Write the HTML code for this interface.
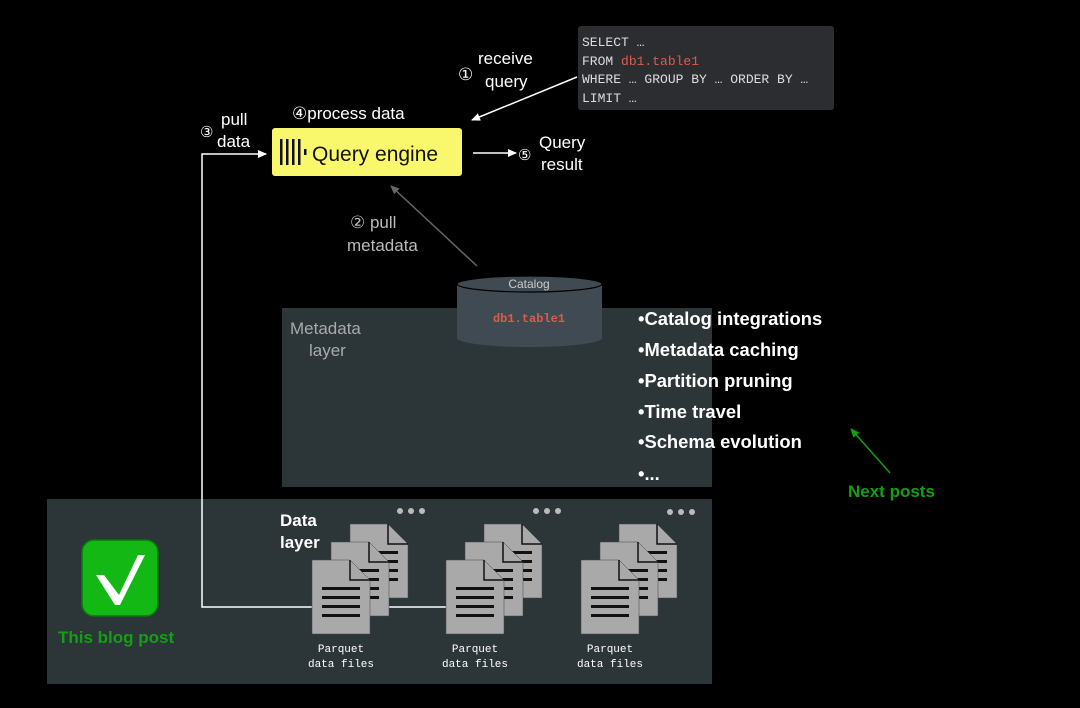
<!DOCTYPE html>
<html><head><meta charset="utf-8"><style>
html,body{margin:0;padding:0;background:#000;}
body{width:1080px;height:703px;overflow:hidden;}
svg text{font-family:"Liberation Sans",sans-serif;}
svg text.mono, svg .mono text{font-family:"Liberation Mono",monospace;}
</style></head><body>
<svg width="1080" height="703" viewBox="0 0 1080 703" xmlns="http://www.w3.org/2000/svg">
<defs>
<g id="doc">
<path d="M0 0 H38 L58 20 V74 H0 Z" fill="#a9a9a9" stroke="#444" stroke-width="0.5"/>
<path d="M38 0 V20 H58" fill="none" stroke="#111" stroke-width="1.5"/>
<rect x="10" y="27" width="38" height="3" fill="#111"/>
<rect x="10" y="36" width="38" height="3" fill="#111"/>
<rect x="10" y="45" width="38" height="3" fill="#111"/>
<rect x="10" y="54" width="38" height="3" fill="#111"/>
</g>
<g id="stack">
<use href="#doc" x="38" y="-36"/>
<use href="#doc" x="19" y="-18"/>
<use href="#doc" x="0" y="0"/>
</g>
<marker id="ah" markerWidth="10" markerHeight="10" refX="8" refY="5" orient="auto" markerUnits="userSpaceOnUse"><path d="M0 1 L9 5 L0 9 Z" fill="#fff"/></marker>
<marker id="ahg" markerWidth="10" markerHeight="10" refX="8" refY="5" orient="auto" markerUnits="userSpaceOnUse"><path d="M0 1 L9 5 L0 9 Z" fill="#666"/></marker>
<marker id="ahgr" markerWidth="10" markerHeight="10" refX="8" refY="5" orient="auto" markerUnits="userSpaceOnUse"><path d="M0 1 L9 5 L0 9 Z" fill="#12a012"/></marker>
</defs>

<!-- layers -->
<rect x="282" y="308" width="430" height="179" fill="#2c3538"/>
<rect x="47" y="499" width="665" height="185" fill="#2c3538"/>
<text x="290" y="334" font-size="17" fill="#aaa">Metadata</text>
<text x="309" y="356" font-size="17" fill="#aaa">layer</text>

<!-- catalog -->
<path d="M457 284 V338 A72 9 0 0 0 602 338 V284" fill="#3f4a52"/>
<ellipse cx="529.5" cy="284" rx="72.5" ry="8" fill="#3f4a52" stroke="#000" stroke-width="1.2"/>
<text x="529" y="288" font-size="12" fill="#ccc" text-anchor="middle">Catalog</text>
<text x="529" y="322" font-size="12" fill="#e05a4a" text-anchor="middle" class="mono" font-weight="bold">db1.table1</text>

<!-- bullets -->
<g font-size="18.4" font-weight="bold" fill="#fff">
<text x="638" y="325">•Catalog integrations</text>
<text x="638" y="356">•Metadata caching</text>
<text x="638" y="387">•Partition pruning</text>
<text x="638" y="418">•Time travel</text>
<text x="638" y="448">•Schema evolution</text>
<text x="638" y="480">•...</text>
</g>
<line x1="890" y1="473" x2="851" y2="429" stroke="#12a012" stroke-width="1.5" marker-end="url(#ahgr)"/>
<text x="848" y="497" font-size="17" font-weight="bold" fill="#12a012">Next posts</text>

<!-- SQL box -->
<rect x="578" y="26" width="256" height="84" rx="3" fill="#2b2d30"/>
<g class="mono" font-size="13" fill="#ddd">
<text x="582" y="46">SELECT …</text>
<text x="582" y="65">FROM <tspan fill="#e05a4a">db1.table1</tspan></text>
<text x="582" y="83">WHERE … GROUP BY … ORDER BY …</text>
<text x="582" y="102">LIMIT …</text>
</g>
<line x1="577" y1="77" x2="472" y2="120" stroke="#fff" stroke-width="1.5" marker-end="url(#ah)"/>
<text x="478" y="64" font-size="17" fill="#fff">receive</text>
<text x="485" y="87" font-size="17" fill="#fff">query</text>
<text x="458" y="80" font-size="17" fill="#fff">①</text>

<!-- query engine -->
<rect x="272" y="128" width="190" height="48" rx="3" fill="#f9f86c"/>
<g fill="#111"><rect x="280" y="139" width="2.5" height="26"/><rect x="286" y="139" width="2.5" height="26"/><rect x="292" y="139" width="2.5" height="26"/><rect x="298" y="139" width="2.5" height="26"/><rect x="304" y="149" width="2.5" height="6"/></g>
<text x="312" y="161" font-size="21" fill="#111">Query engine</text>
<text x="292" y="119" font-size="17" fill="#fff">④process data</text>
<line x1="473" y1="153" x2="516" y2="153" stroke="#fff" stroke-width="1.5" marker-end="url(#ah)"/>
<text x="518" y="160" font-size="15" fill="#fff">⑤</text>
<text x="539" y="148" font-size="17" fill="#fff">Query</text>
<text x="541" y="170" font-size="17" fill="#fff">result</text>

<!-- pull metadata -->
<line x1="477" y1="266" x2="391" y2="186" stroke="#666" stroke-width="1.5" marker-end="url(#ahg)"/>
<text x="350" y="228" font-size="17" fill="#bbb">② pull</text>
<text x="347" y="251" font-size="17" fill="#bbb">metadata</text>

<!-- pull data -->
<text x="200" y="137" font-size="15" fill="#fff">③</text>
<text x="221" y="125" font-size="17" fill="#fff">pull</text>
<text x="217" y="147" font-size="17" fill="#fff">data</text>
<polyline points="312,607 202,607 202,154 266,154" fill="none" stroke="#fff" stroke-width="1.5" marker-end="url(#ah)"/>
<line x1="372" y1="607" x2="446" y2="607" stroke="#fff" stroke-width="1.5"/>

<!-- data layer -->
<text x="280" y="526" font-size="17" font-weight="bold" fill="#fff">Data</text>
<text x="280" y="548" font-size="17" font-weight="bold" fill="#fff">layer</text>
<use href="#stack" x="312" y="560"/>
<use href="#stack" x="446" y="560"/>
<use href="#stack" x="581" y="560"/>
<g fill="#bbb">
<circle cx="400" cy="511" r="3"/><circle cx="411" cy="511" r="3"/><circle cx="422" cy="511" r="3"/>
<circle cx="536" cy="511" r="3"/><circle cx="547" cy="511" r="3"/><circle cx="558" cy="511" r="3"/>
<circle cx="670" cy="512" r="3"/><circle cx="681" cy="512" r="3"/><circle cx="692" cy="512" r="3"/>
</g>
<g font-size="11" fill="#fff" text-anchor="middle" class="mono">
<text x="341" y="652">Parquet</text><text x="341" y="667">data files</text>
<text x="475" y="652">Parquet</text><text x="475" y="667">data files</text>
<text x="610" y="652">Parquet</text><text x="610" y="667">data files</text>
</g>

<!-- check -->
<rect x="82" y="540" width="76" height="76" rx="12" fill="#14b814" stroke="#0a7a0a" stroke-width="1.5"/>
<path d="M96 575 L104 575 L119 595 L138 555 L145 555 L120 605 L115 605 Z" fill="#fff"/>
<text x="58" y="643" font-size="17" font-weight="bold" fill="#12a012">This blog post</text>
</svg>
</body></html>
